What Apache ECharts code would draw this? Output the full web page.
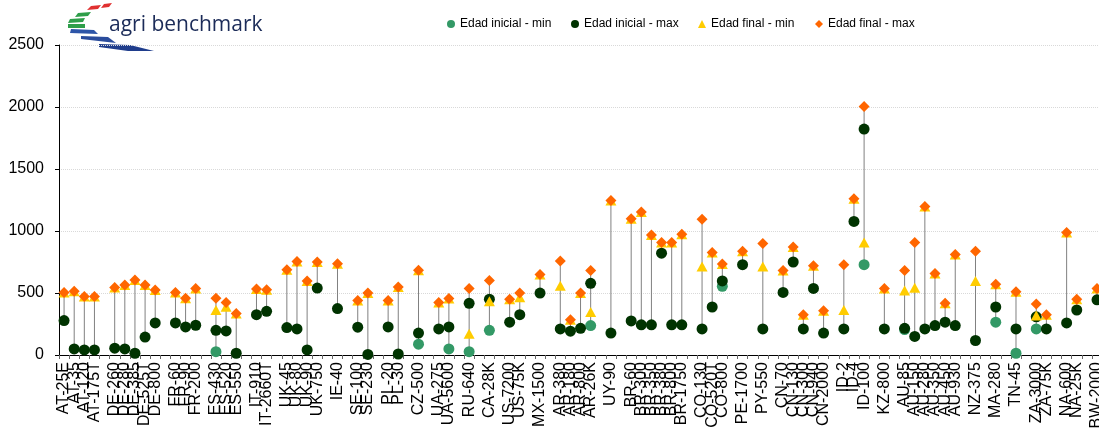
<!DOCTYPE html>
<html><head><meta charset="utf-8">
<script src="https://cdn.jsdelivr.net/npm/echarts@6/dist/echarts.min.js"></script>
<style>html,body{margin:0;padding:0;overflow:hidden;background:#fff}#c{width:1105px;height:436px}</style>
</head><body><div id="c"></div>
<script>
const categories = ['AT-25E','AT-35','AT-120','AT-175T','','DE-260','DE-280','DE-385','DE-525T','DE-800','','FR-60','FR-90','FR-200','','ES-430','ES-520','ES-550','','IT-910','IT-2660T','','UK-45','UK-80','UK-90','UK-750','','IE-40','','SE-100','SE-230','','PL-20','PL-30','','CZ-500','','UA-275','UA-5600','','RU-640','','CA-28K','','US-7200','US-75K','','MX-1500','','AR-380','AR-180','AR-800','AR-26K','','UY-90','','BR-60','BR-300','BR-350','BR-380','BR-800','BR-1750','','CO-130','CO-520T','CO-800','','PE-1700','','PY-550','','CN-70','CN-130','CN-300','CN-940','CN-2000','','ID-2','ID-4','ID-100','','KZ-800','','AU-85','AU-150','AU-280','AU-350','AU-450','AU-930','','NZ-375','','MA-280','','TN-45','','ZA-3000','ZA-75K','','NA-600','NA-25K','','BW-2000'];
const edadInicialMin = [null,null,null,null,null, null,null,null,null,null,null, null,null,null,null, 27,null,null,null, null,null,null, null,null,null,null,null, null,null, null,null,null, null,null,null, 87,null, null,49,null, 27,null, 199,null, null,null,null, null,null, null,null,null,237,null, null,null, null,null,null,null,null,null,null, null,null,554,null, null,null, null,null, null,null,null,null,null,null, null,null,728,null, null,null, 205,null,null,null,null,null,null, null,null, 265,null, 14,null, 210,null,null, null,null,null, null];
const edadInicialMax = [278,49,41,41,null, 55,49,14,145,259,null, 259,226,240,null, 199,194,14,null, 325,352,null, 221,210,41,540,null, 374,null, 224,5,null, 226,8,null, 177,null, 210,226,null, 417,null, 450,null, 265,325,null, 499,null, 210,192,215,578,null, 177,null, 275,243,243,821,243,243,null, 210,387,597,null, 728,null, 210,null, 505,750,210,537,177,null, 210,1077,1822,null, 210,null, 215,150,210,237,265,237,null, 117,null, 387,null, 210,null, 308,210,null, 259,363,null, 445];
const edadFinalMin = [504,515,472,472,null, 545,565,605,565,524,null, 504,458,537,null, 363,390,335,null, 532,526,null, 687,755,597,750,null, 736,null, 439,499,null, 439,548,null, 684,null, 423,455,null, 172,null, 434,null, 450,465,null, 649,null, 559,285,499,346,null, 1246,null, 1099,1154,968,908,908,974,null, 714,826,734,null, 837,null, 714,null, 682,870,325,720,357,null, 363,1260,908,null, 537,null, 521,543,1197,657,417,810,null, 597,null, 570,null, 510,null, 319,325,null, 987,450,null, 537];
const edadFinalMax = [504,515,472,472,null, 545,565,605,565,524,null, 504,458,537,null, 458,423,335,null, 532,526,null, 687,755,597,750,null, 736,null, 439,499,null, 439,548,null, 684,null, 423,455,null, 537,null, 600,null, 450,499,null, 649,null, 758,285,499,682,null, 1246,null, 1099,1154,968,908,908,974,null, 1094,826,734,null, 837,null, 900,null, 682,870,325,720,357,null, 728,1260,2004,null, 537,null, 682,908,1197,657,417,810,null, 837,null, 570,null, 510,null, 412,325,null, 987,450,null, 537];
const seriesNames = ['Edad inicial - min','Edad inicial - max','Edad final - min','Edad final - max'];
const yMin = 0, yMax = 2500, yStep = 500;

const all = [edadInicialMin, edadInicialMax, edadFinalMin, edadFinalMax];
const hiLo = [];
categories.forEach((c, i) => {
  const v = all.map(a => a[i]).filter(x => x != null);
  if (v.length >= 2) hiLo.push([i, Math.min(...v), Math.max(...v)]);
});

const chart = echarts.init(document.getElementById('c'), null, {renderer: 'canvas'});
const legendText = {fontFamily: "'Liberation Sans',Arial,sans-serif", fontSize: 12, color: '#000'};
function lg(name, left, icon) {
  return {data: [{name, icon}], left, top: 18, itemWidth: 8, itemHeight: 8, itemGap: 0, padding: 0, textStyle: legendText, selectedMode: false};
}
chart.setOption({
  animation: false,
  backgroundColor: '#fff',
  legend: [lg(seriesNames[0], 447, 'circle'), lg(seriesNames[1], 571, 'circle'), lg(seriesNames[2], 698, 'triangle'), lg(seriesNames[3], 815, 'diamond')],
  graphic: [
    {type: 'polygon', shape: {points: [[87,10],[91,6],[101,5],[98,9]]}, style: {fill: '#e03030'}},
    {type: 'polygon', shape: {points: [[101,8],[104,4],[112,3],[109,7]]}, style: {fill: '#e03030'}},
    {type: 'polygon', shape: {points: [[75,17],[78,13],[91,12],[88,16]]}, style: {fill: '#2e9e4a'}},
    {type: 'polygon', shape: {points: [[68,23],[70,19],[85,18],[83,22]]}, style: {fill: '#2e9e4a'}},
    {type: 'polygon', shape: {points: [[68,28],[68,24],[85,24],[85,28]]}, style: {fill: '#2e9e4a'}},
    {type: 'polygon', shape: {points: [[70,33],[71,29],[94,30],[98,34]]}, style: {fill: '#2d55a8'}},
    {type: 'polygon', shape: {points: [[81,39],[81,36],[108,37],[116,43]]}, style: {fill: '#2a4c9c'}},
    {type: 'polygon', shape: {points: [[99,47],[99,44],[130,45],[154,51],[128,51]]}, style: {fill: '#1f3d8c'}},
    {type: 'text', left: 109, top: 15, style: {text: 'agri benchmark', fontSize: 21, fontFamily: "'Open Sans','Liberation Sans',Arial,sans-serif", fill: '#1b2b58'}}
  ],
  grid: {left: 59, right: 0, top: 45, bottom: 81, containLabel: false},
  xAxis: {
    type: 'category', data: categories, boundaryGap: true,
    axisLine: {lineStyle: {color: '#000', width: 1}},
    axisTick: {show: true, length: 4, interval: 0, lineStyle: {color: '#666'}},
    axisLabel: {interval: 0, rotate: 90, margin: 7, fontSize: 16, color: '#000', fontFamily: "'Liberation Sans',Arial,sans-serif", hideOverlap: false},
    splitLine: {show: false}
  },
  yAxis: {
    type: 'value', min: yMin, max: yMax, interval: yStep,
    axisLine: {show: true, lineStyle: {color: '#000', width: 1}},
    axisTick: {show: true, length: 4, lineStyle: {color: '#000'}},
    axisLabel: {margin: 15, fontSize: 16, color: '#000', fontFamily: "'Liberation Sans',Arial,sans-serif", formatter: v => String(v)},
    splitLine: {show: true, lineStyle: {color: '#d9d9d9', type: [1, 1], width: 1}}
  },
  series: [
    {type: 'custom', name: 'hilo', data: hiLo, encode: {x: 0, y: [1, 2]}, z: 1, silent: true,
     renderItem: function (params, api) {
       const a = api.coord([api.value(0), api.value(1)]);
       const b = api.coord([api.value(0), api.value(2)]);
       return {type: 'line', shape: {x1: a[0], y1: a[1], x2: b[0], y2: b[1]}, style: {stroke: '#808080', lineWidth: 1}};
     }},
    {type: 'scatter', name: seriesNames[0], data: edadInicialMin, symbol: 'circle', symbolSize: 11, itemStyle: {color: '#339966', opacity: 1}, z: 2},
    {type: 'scatter', name: seriesNames[1], data: edadInicialMax, symbol: 'circle', symbolSize: 11, itemStyle: {color: '#003300', opacity: 1}, z: 3},
    {type: 'scatter', name: seriesNames[2], data: edadFinalMin, symbol: 'triangle', symbolSize: [11, 10], itemStyle: {color: '#ffcc00', opacity: 1}, z: 4},
    {type: 'scatter', name: seriesNames[3], data: edadFinalMax, symbol: 'diamond', symbolSize: [11, 11], itemStyle: {color: '#ff6600', opacity: 1}, z: 5}
  ]
});
</script></body></html>
